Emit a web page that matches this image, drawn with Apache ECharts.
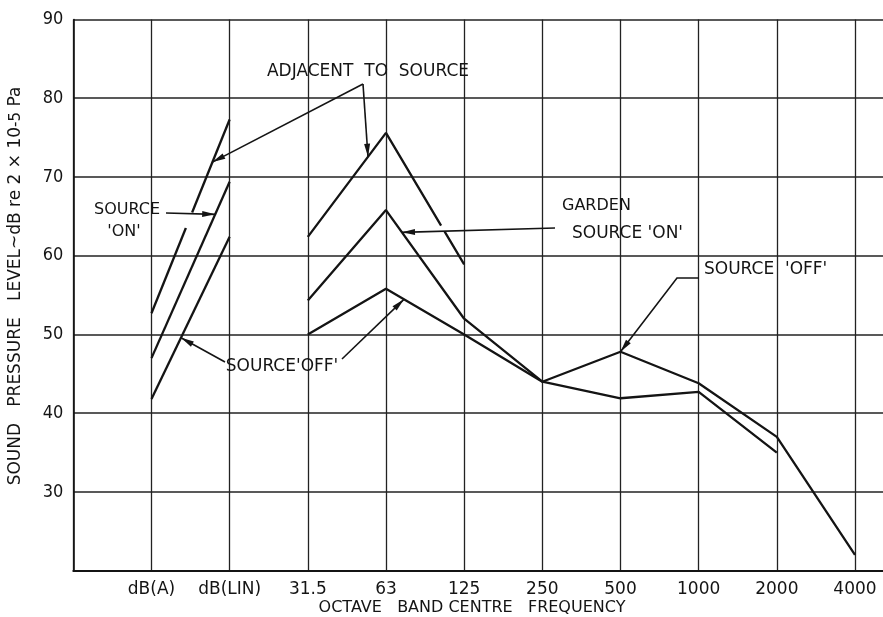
<!DOCTYPE html>
<html>
<head>
<meta charset="utf-8">
<script src="https://cdn.jsdelivr.net/npm/echarts@6/dist/echarts.min.js"></script>
<style>
html,body{margin:0;padding:0;background:#fff;}
#chart{width:883px;height:617px;}
</style>
</head>
<body>
<div id="chart"></div>
<script>
// ---- data ----
const categories = ['', 'dB(A)', 'dB(LIN)', '31.5', '63', '125', '250', '500', '1000', '2000', '4000'];
const yTicks = [20, 30, 40, 50, 60, 70, 80, 90];
// weighted levels: dB(A) -> dB(LIN)
const adjacentWeighted = [52.7, 77.3];
const sourceOnWeighted = [47.0, 69.4];
const sourceOffWeighted = [41.8, 62.4];
// octave bands starting at 31.5 Hz
const adjacentOctave = [62.4, 75.6, 58.9];
const gardenOnOctave = [54.3, 65.8, 52.0, 44.0, 47.8, 43.8, 37.0, 22.0];
const sourceOffOctave = [50.0, 55.8, 50.0, 44.0, 41.9, 42.7, 35.0];

const FONT = '"DejaVu Sans",sans-serif';
const FONT_C = '"DejaVu Sans Condensed","DejaVu Sans",sans-serif';
const INK = '#141414';

const pts = (start, vals) => vals.map((v, i) => [start + i, v]);
const iA = categories.indexOf('dB(A)');
const i31 = categories.indexOf('31.5');

const lines = {
  adjW: pts(iA, adjacentWeighted),
  onW: pts(iA, sourceOnWeighted),
  offW: pts(iA, sourceOffWeighted),
  adjO: pts(i31, adjacentOctave),
  garO: pts(i31, gardenOnOctave),
  offO: pts(i31, sourceOffOctave)
};

const chart = echarts.init(document.getElementById('chart'));

const mkSeries = (name, data) => ({
  name, type: 'line', data, symbol: 'none', silent: true,
  lineStyle: { color: INK, width: 2.3 }, z: 3
});

chart.setOption({
  animation: false,
  backgroundColor: '#fff',
  grid: { left: 73.3, right: -2, top: 19.5, bottom: 46.3, containLabel: false, outerBoundsMode: 'none' },
  xAxis: {
    type: 'value', min: 0, max: 10.384, interval: 1,
    axisLine: { show: true, onZero: false, lineStyle: { color: INK, width: 2 } },
    axisTick: { show: false },
    axisLabel: {
      color: INK, fontSize: 17, fontFamily: FONT, margin: 10,
      formatter: v => (Number.isInteger(v) ? categories[v] : '')
    },
    splitLine: { show: true, lineStyle: { color: '#222', width: 1.3 } }
  },
  yAxis: {
    type: 'value', min: yTicks[0], max: yTicks[yTicks.length - 1], interval: 10,
    axisLine: { show: true, lineStyle: { color: INK, width: 1.6 } },
    axisTick: { show: false },
    axisLabel: {
      color: INK, fontSize: 18, fontFamily: FONT_C, margin: 10,
      formatter: v => (v === yTicks[0] ? '' : String(v))
    },
    splitLine: { show: true, lineStyle: { color: '#222', width: 1.5 } }
  },
  series: [
    mkSeries('Adjacent (weighted)', lines.adjW),
    mkSeries('Source on (weighted)', lines.onW),
    mkSeries('Source off (weighted)', lines.offW),
    mkSeries('Adjacent to source', lines.adjO),
    mkSeries('Garden source on', lines.garO),
    mkSeries('Source off', lines.offO)
  ]
});

// ---- annotations ----
function onLine(line, xi) {
  for (let k = 0; k < line.length - 1; k++) {
    const a = line[k], b = line[k + 1];
    if (xi >= a[0] && xi <= b[0]) {
      const t = (xi - a[0]) / (b[0] - a[0]);
      return [xi, a[1] + t * (b[1] - a[1])];
    }
  }
  return line[line.length - 1];
}
const px = p => chart.convertToPixel({ gridIndex: 0 }, p);
function head(tip, from, len = 13, half = 3.0) {
  const dx = tip[0] - from[0], dy = tip[1] - from[1];
  const d = Math.hypot(dx, dy), ux = dx / d, uy = dy / d;
  const b = [tip[0] - ux * len, tip[1] - uy * len];
  return [tip, [b[0] - uy * half, b[1] + ux * half], [b[0] + uy * half, b[1] - ux * half]];
}
const g = [];
function arrow(path, tipData) {
  const tip = px(tipData);
  const all = path.concat([tip]);
  g.push({ type: 'polyline', z: 20, shape: { points: all }, style: { stroke: INK, lineWidth: 1.6, fill: null } });
  g.push({ type: 'polygon', z: 21, shape: { points: head(tip, all[all.length - 2]) }, style: { fill: INK } });
}
function gap(line, x0, x1) {
  const a = px(onLine(line, x0)), b = px(onLine(line, x1));
  g.push({ type: 'line', z: 10, shape: { x1: a[0], y1: a[1], x2: b[0], y2: b[1] }, style: { stroke: '#fff', lineWidth: 4.5 } });
}
function text(str, x, y, align = 'center', size = 17) {
  g.push({ type: 'text', z: 30, x, y, style: { text: str, fill: INK, font: size + 'px ' + FONT, textAlign: align, textVerticalAlign: 'middle' } });
}

// breaks where arrows cross
gap(lines.adjW, 1.44, 1.52);
gap(lines.adjO, 4.705, 4.75);

// ADJACENT TO SOURCE
text('ADJACENT  TO  SOURCE', 368, 72);
arrow([[363, 84]], onLine(lines.adjW, 1.78));
arrow([[363, 84]], onLine(lines.adjO, 3.77));
// SOURCE 'ON'
text('SOURCE', 127, 210, 'center', 16);
text("'ON'", 124, 232, 'center', 16);
arrow([[166, 213]], onLine(lines.onW, 1.815));
// SOURCE'OFF'
text("SOURCE'OFF'", 282, 367);
arrow([[225, 362]], onLine(lines.offW, 1.378));
arrow([[342, 359]], onLine(lines.offO, 4.23));
// GARDEN SOURCE 'ON'
text('GARDEN', 562, 206, 'left', 16);
text("SOURCE 'ON'", 572, 234, 'left');
arrow([[555, 228]], onLine(lines.garO, 4.205));
// SOURCE 'OFF'
text("SOURCE  'OFF'", 704, 270, 'left');
arrow([[699, 278], [677, 278]], onLine(lines.garO, 7));

// axis titles
g.push({ type: 'text', z: 30, x: 16, y: 286, rotation: Math.PI / 2,
  style: { text: 'SOUND   PRESSURE   LEVEL~dB re 2 × 10{s|-5} Pa', fill: INK, font: '17px ' + FONT,
    textAlign: 'center', textVerticalAlign: 'middle',
    rich: { s: { fontSize: 15, fontFamily: FONT, fill: INK } } } });
text('OCTAVE   BAND CENTRE   FREQUENCY', 472, 608, 'center', 16);

chart.setOption({ graphic: g });
</script>
</body>
</html>
